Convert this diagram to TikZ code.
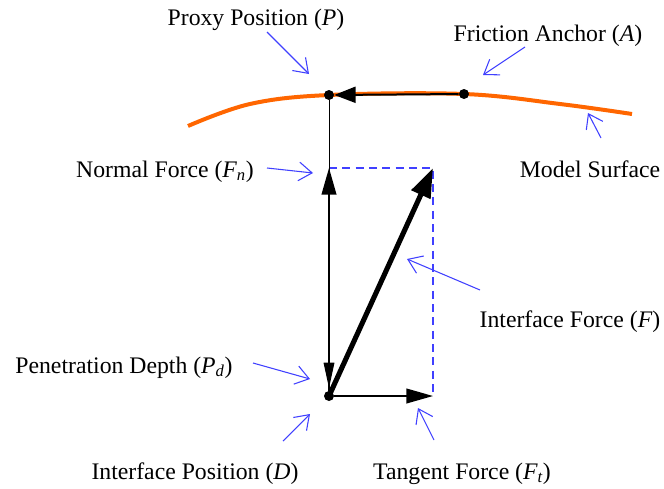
\documentclass[tikz,border=0pt]{standalone}
\usepackage{fontspec}
\setmainfont{Liberation Serif}
\usepackage{tikz}
\usetikzlibrary{arrows.meta,positioning,calc}
\definecolor{ptrblue}{RGB}{64,64,255}
\definecolor{surforange}{RGB}{255,102,0}
\newcommand{\lblfont}{\fontsize{17.8}{20}\selectfont}
\tikzset{
  lbl/.style    ={font=\lblfont, anchor=base, inner sep=0pt},
  pt/.style     ={circle, fill=black, inner sep=0pt, minimum size=7.5pt},
  ptr/.style    ={-{Straight Barb[length=10pt,width=14pt]}, draw=ptrblue, line width=0.8pt},
  vec/.style    ={-{Triangle[length=20pt,width=11pt]}, draw, line width=1.5pt},
  fric/.style   ={-{Triangle[length=16pt,width=12pt]}, draw, line width=1.5pt},
  thinvec/.style={-{Triangle[length=19pt,width=8pt]}, draw, line width=0.75pt},
  bigvec/.style ={-{Triangle[length=22pt,width=15pt]}, draw, line width=3.8pt},
  guide/.style  ={draw=ptrblue, line width=0.8pt, dash pattern=on 6pt off 4pt},
  surf/.style   ={draw=surforange, line width=3pt},
}
\begin{document}
\begin{tikzpicture}[x=0.75pt,y=-0.75pt]
\useasboundingbox (0,0) rectangle (664,489);
% model surface
\draw[surf] plot[smooth, tension=0.6] coordinates {(188,126) (250,104) (329,95) (464,94) (560,104) (632,114)};
% points
\coordinate (Fn) at (329,168);
\coordinate (F)  at (433,168);
\coordinate (Ft) at (433,396);
\node[pt] (P) at (329,95)  {};
\node[pt] (A) at (464,94)  {};
\node[pt] (D) at (329,396) {};
% force parallelogram
\draw[guide] (Fn) -- (F) -- (Ft);
\draw[thinvec] (P) -- ([yshift=2pt]D.north);
\draw[fric] (A) -- (P);
\draw[vec] (D) -- (Fn);
\draw[vec] (D) -- (Ft);
\draw[bigvec] (D.center) -- (F);
% labels
\node[lbl] (lP)  at (256,26)  {Proxy Position (\textit{P})};
\node[lbl] (lA)  at (548,41)  {Friction Anchor (\textit{A})};
\node[lbl] (lS)  at (590,177) {Model Surface};
\node[lbl] (lFn) at (165,177) {Normal Force (\textit{F\textsubscript{n}})};
\node[lbl] (lF)  at (570,327) {Interface Force (\textit{F})};
\node[lbl] (lPd) at (124,373) {Penetration Depth (\textit{P\textsubscript{d}})};
\node[lbl] (lD)  at (195,479) {Interface Position (\textit{D})};
\node[lbl] (lFt) at (462,479) {Tangent Force (\textit{F\textsubscript{t}})};
% pointers
\coordinate (sP)  at (267,32);  \coordinate (tP)  at (309,74);
\coordinate (sA)  at (525,47);  \coordinate (tA)  at (483,75);
\coordinate (sS)  at (601,138); \coordinate (tS)  at (588,113);
\coordinate (sFn) at (267,168); \coordinate (tFn) at (313,173);
\coordinate (sF)  at (480,290); \coordinate (tF)  at (407,259);
\coordinate (sPd) at (253,363); \coordinate (tPd) at (310,379);
\coordinate (sD)  at (283,441); \coordinate (tD)  at (310,414);
\coordinate (sFt) at (434,440); \coordinate (tFt) at (418,408);
\foreach \n in {P,A,S,Fn,F,Pd,D,Ft}
  \draw[ptr] (s\n) -- (t\n);
\end{tikzpicture}
\end{document}
